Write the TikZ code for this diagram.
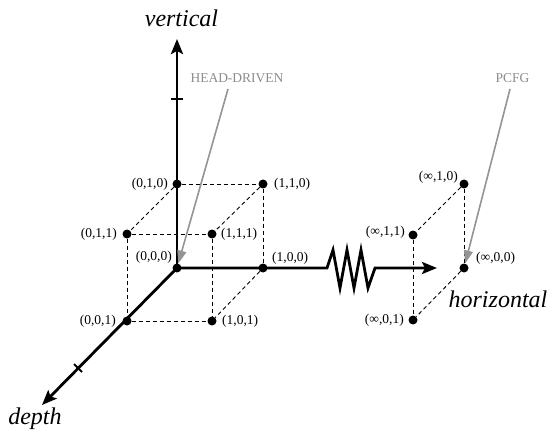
\documentclass[tikz,border=0pt]{standalone}
\usepackage{fontspec}
\setmainfont{Liberation Serif}
\usetikzlibrary{arrows.meta}
\begin{document}
\begin{tikzpicture}[x=1pt,y=-1pt,
  dot/.style={circle,fill=black,inner sep=0pt,minimum size=9pt},
  lbl/.style={font=\fontsize{13.5}{15}\selectfont,inner sep=0pt},
  axlbl/.style={font=\fontsize{24}{28}\selectfont\itshape,inner sep=0pt},
  glbl/.style={font=\fontsize{13.5}{15}\selectfont,text=black!45,inner sep=0pt},
  axisline/.style={line width=2.8pt,line join=miter},
  axhead/.style={-{Stealth[length=15pt,width=12pt,inset=3pt]}},
  cubeedge/.style={line width=0.9pt,dash pattern=on 4pt off 3pt},
  garrow/.style={draw=black!42,line width=1.6pt,-{Triangle[length=13pt,width=9pt]}},
  tickmark/.style={line width=2pt}]
\useasboundingbox (0,0) rectangle (552,433);

% unit cube points
\node[dot] (p000) at (177,268) {};
\node[dot] (p010) at (177,184) {};
\node[dot] (p100) at (263,268) {};
\node[dot] (p110) at (263,184) {};
\node[dot] (p001) at (127,321) {};
\node[dot] (p011) at (127,234) {};
\node[dot] (p101) at (212,321) {};
\node[dot] (p111) at (212,234) {};
% infinity points
\node[dot] (q010) at (464,184) {};
\node[dot] (q000) at (464,268) {};
\node[dot] (q011) at (413,235) {};
\node[dot] (q001) at (413,320) {};

% axis ends
\coordinate (vtip) at (177,39);
\coordinate (htip) at (437,268);
\coordinate (dtip) at (42,405);

% axes
\draw[axisline,axhead] (p000.center) -- (vtip);
\draw[axisline,axhead] (p000.center) -- (dtip);
\draw[axisline,axhead] (p000.center) -- (p100.center) -- (327,268) -- (333,250) -- (340,288)
  -- (347,250) -- (354,288) -- (361,250) -- (368,288) -- (375,268) -- (htip);
% ticks
\draw[tickmark] (171,99) -- (183,99);
\draw[tickmark] (74,364) -- (82,372);

% dashed cube edges
\draw[cubeedge] (p010) -- (p110);
\draw[cubeedge] (p010) -- (p011);
\draw[cubeedge] (p011) -- (p111);
\draw[cubeedge] (p110) -- (p111);
\draw[cubeedge] (p110) -- (p100);
\draw[cubeedge] (p011) -- (p001);
\draw[cubeedge] (p111) -- (p101);
\draw[cubeedge] (p001) -- (p101);
\draw[cubeedge] (p100) -- (p101);
\draw[cubeedge] (q010) -- (q011);
\draw[cubeedge] (q010) -- (q000);
\draw[cubeedge] (q011) -- (q001);
\draw[cubeedge] (q000) -- (q001);

% point labels
\node[lbl,anchor=east] (l010) at (168,184) {(0,1,0)};
\node[lbl,anchor=west] (l110) at (274,184) {(1,1,0)};
\node[lbl,anchor=east] (l011) at (117,234) {(0,1,1)};
\node[lbl,anchor=west] (l111) at (221,234) {(1,1,1)};
\node[lbl,anchor=east] (l000) at (172,257) {(0,0,0)};
\node[lbl,anchor=west] (l100) at (272,258) {(1,0,0)};
\node[lbl,anchor=east] (l001) at (116,321) {(0,0,1)};
\node[lbl,anchor=west] (l101) at (222,321) {(1,0,1)};
\node[lbl,anchor=east] (m010) at (458,177) {(∞,1,0)};
\node[lbl,anchor=east] (m011) at (405,232) {(∞,1,1)};
\node[lbl,anchor=west] (m000) at (476,258) {(∞,0,0)};
\node[lbl,anchor=east] (m001) at (404,320) {(∞,0,1)};

% axis labels
\node[axlbl,anchor=base] (vlab) at (181.5,27) {vertical};
\node[axlbl,anchor=base] (hlab) at (498,307) {horizontal};
\node[axlbl,anchor=base] (dlab) at (35,424) {depth};

% gray annotations
\node[glbl,anchor=base] (hd) at (237,83) {HEAD-DRIVEN};
\node[glbl,anchor=base] (pcfg) at (512.5,83) {PCFG};
\coordinate (hdstart) at (228,89);
\coordinate (pcstart) at (510,89);
\draw[garrow] (hdstart) -- (p000);
\draw[garrow] (pcstart) -- (q000);
\end{tikzpicture}
\end{document}
